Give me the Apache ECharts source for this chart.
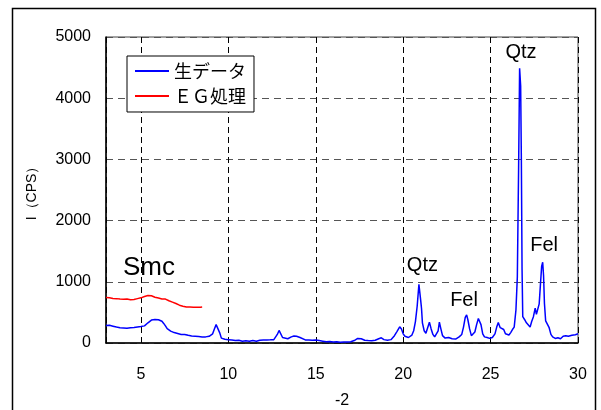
<!DOCTYPE html>
<html>
<head>
<meta charset="utf-8">
<title>XRD</title>
<script src="https://cdn.jsdelivr.net/npm/echarts@6/dist/echarts.min.js"></script>
<style>
  html, body { margin: 0; padding: 0; background: #fff; }
  #main { width: 601px; height: 410px; }
</style>
</head>
<body>
<div id="main"></div>
<script>
// 2θ (deg) / intensity (CPS)
var rawData = [
  [3.0, 285], [3.1, 270], [3.2, 290], [3.3, 265], [3.4, 275], [3.5, 255], [3.6, 260], [3.7, 245],
  [3.8, 250], [3.9, 235], [4.0, 245], [4.1, 230], [4.2, 240], [4.3, 235], [4.4, 250], [4.5, 240],
  [4.6, 255], [4.7, 250], [4.8, 262], [4.9, 258], [5.0, 268], [5.1, 270], [5.2, 280], [5.3, 300],
  [5.4, 330], [5.5, 355], [5.6, 375], [5.7, 390], [5.8, 385], [5.9, 392], [6.0, 380], [6.1, 370],
  [6.2, 355], [6.3, 320], [6.4, 280], [6.5, 235], [6.6, 205], [6.7, 195], [6.8, 180], [6.9, 170],
  [7.0, 160], [7.1, 155], [7.2, 150], [7.3, 140], [7.4, 135], [7.5, 140], [7.6, 120], [7.7, 125],
  [7.8, 110], [7.9, 115], [8.0, 105], [8.1, 110], [8.2, 100], [8.3, 105], [8.4, 98], [8.5, 100],
  [8.6, 102], [8.7, 100], [8.8, 105], [8.9, 110], [9.0, 125], [9.1, 150], [9.2, 230], [9.3, 300],
  [9.35, 315], [9.4, 290], [9.5, 170], [9.6, 80], [9.7, 65], [9.8, 60], [10.0, 55], [10.2, 50],
  [10.4, 40], [10.6, 45], [10.8, 30], [11.0, 35], [11.2, 28], [11.4, 40], [11.6, 30], [11.8, 45],
  [12.0, 48], [12.2, 50], [12.4, 52], [12.6, 55], [12.7, 80], [12.8, 140], [12.9, 205], [12.95, 215],
  [13.0, 190], [13.1, 90], [13.2, 70], [13.4, 70], [13.6, 100], [13.75, 115], [13.9, 110], [14.0, 80],
  [14.1, 90], [14.2, 60], [14.4, 50], [14.6, 48], [14.8, 45], [15.0, 50], [15.2, 40], [15.4, 30],
  [15.6, 20], [15.8, 25], [16.0, 15], [16.2, 20], [16.4, 12], [16.6, 18], [16.8, 15], [17.0, 20],
  [17.2, 40], [17.4, 75], [17.5, 85], [17.6, 70], [17.8, 45], [18.0, 40], [18.2, 38], [18.4, 45],
  [18.6, 70], [18.75, 85], [18.9, 55], [19.1, 45], [19.3, 55], [19.5, 120], [19.65, 190], [19.8, 265],
  [19.9, 230], [20.0, 150], [20.1, 110], [20.3, 90], [20.5, 130], [20.6, 200], [20.7, 350], [20.8, 600],
  [20.9, 960], [20.95, 940], [21.0, 700], [21.05, 560], [21.1, 330], [21.2, 200], [21.3, 160], [21.4, 250],
  [21.5, 340], [21.6, 230], [21.7, 140], [21.8, 100], [21.9, 90], [22.0, 200], [22.07, 340], [22.15, 240],
  [22.25, 120], [22.4, 80], [22.6, 90], [22.7, 100], [22.8, 70], [23.0, 65], [23.1, 75], [23.2, 100],
  [23.35, 140], [23.45, 260], [23.55, 420], [23.63, 460], [23.7, 380], [23.8, 230], [23.9, 120], [24.0, 110],
  [24.1, 180], [24.2, 300], [24.3, 400], [24.35, 410], [24.45, 300], [24.55, 150], [24.65, 100], [24.8, 90],
  [24.95, 75], [25.1, 90], [25.25, 150], [25.35, 260], [25.44, 335], [25.55, 250], [25.65, 240], [25.75, 220],
  [25.85, 150], [25.95, 120], [26.05, 130], [26.15, 170], [26.25, 220], [26.35, 260], [26.45, 540], [26.53, 1080],
  [26.6, 2800], [26.66, 4490], [26.72, 4200], [26.76, 3000], [26.8, 1200], [26.84, 430], [26.95, 380], [27.05, 330],
  [27.15, 300], [27.26, 260], [27.35, 350], [27.45, 430], [27.55, 570], [27.62, 470], [27.7, 460], [27.78, 640],
  [27.85, 950], [27.92, 1250], [27.98, 1320], [28.03, 1100], [28.08, 650], [28.15, 360], [28.25, 330], [28.35, 250],
  [28.45, 140], [28.55, 100], [28.7, 75], [28.85, 85], [29.0, 70], [29.15, 110], [29.3, 120], [29.45, 110],
  [29.55, 140], [29.65, 125], [29.75, 155], [29.85, 135], [30.0, 150]
];

var egData = [
  [3.0, 745], [3.1, 735], [3.2, 740], [3.3, 730], [3.4, 728], [3.5, 722], [3.6, 725], [3.7, 720],
  [3.8, 718], [3.9, 722], [4.0, 715], [4.1, 712], [4.2, 718], [4.3, 710], [4.4, 705], [4.5, 700],
  [4.6, 712], [4.7, 715], [4.8, 725], [4.9, 730], [5.0, 738], [5.1, 745], [5.2, 760], [5.3, 770],
  [5.4, 775], [5.5, 780], [5.6, 772], [5.7, 760], [5.8, 748], [5.9, 740], [6.0, 735], [6.1, 730],
  [6.2, 720], [6.3, 712], [6.4, 718], [6.5, 700], [6.6, 690], [6.7, 680], [6.8, 668], [6.9, 655],
  [7.0, 645], [7.1, 630], [7.2, 618], [7.3, 610], [7.4, 602], [7.5, 596], [7.6, 590], [7.7, 595],
  [7.8, 588], [7.9, 592], [8.0, 585], [8.1, 590], [8.2, 584], [8.3, 595], [8.4, 585], [8.5, 588]
];

var seriesNames = ["生データ", "ＥＧ処理"];

// peak labels: [2θ, CPS, text]
var peakLabels = [
  [26.74, 4740, "Qtz"],
  [21.1, 1260, "Qtz"],
  [23.48, 700, "Fel"],
  [28.06, 1600, "Fel"]
];
var smcLabel = [5.46, 1230, "Smc"];

var font = "'Liberation Sans', Arial, sans-serif";

var chart = echarts.init(document.getElementById("main"));

function markItem(p, size) {
  return {
    coord: [p[0], p[1]],
    value: p[2],
    symbol: "circle",
    symbolSize: 1,
    itemStyle: { color: "rgba(0,0,0,0)" },
    label: {
      show: true,
      position: "inside",
      formatter: p[2],
      color: "#000",
      fontFamily: font,
      fontSize: size
    }
  };
}

chart.setOption({
  animation: false,
  backgroundColor: "#fff",
  graphic: [
    {
      type: "rect",
      shape: { x: 12.5, y: 8.5, width: 583, height: 420 },
      style: { fill: "none", stroke: "#000", lineWidth: 1.5 },
      silent: true
    }
  ],
  grid: {
    left: 106,
    right: 23,
    top: 37,
    bottom: 67,
    outerBoundsMode: "none",
    show: true,
    borderColor: "#444",
    borderWidth: 1
  },
  legend: {
    orient: "vertical",
    left: 127,
    top: 56,
    padding: [6, 8, 7, 8],
    itemGap: 7,
    itemWidth: 34,
    itemHeight: 2,
    icon: "rect",
    backgroundColor: "#fff",
    borderColor: "#000",
    borderWidth: 1,
    data: seriesNames,
    textStyle: {
      fontFamily: "'Noto Sans CJK JP', sans-serif",
      fontSize: 18,
      color: "#000"
    }
  },
  xAxis: {
    type: "value",
    min: 3,
    max: 30,
    name: "-2",
    nameLocation: "middle",
    nameGap: 50,
    nameTextStyle: { fontFamily: font, fontSize: 16, color: "#000" },
    axisLine: { lineStyle: { color: "#000", width: 1.5 } },
    axisTick: { show: false },
    axisLabel: {
      showMinLabel: false,
      margin: 24,
      fontFamily: font,
      fontSize: 16,
      color: "#000"
    },
    splitLine: {
      show: true,
      lineStyle: { color: "#000", type: [6, 4], width: 1 }
    }
  },
  yAxis: {
    type: "value",
    min: 0,
    max: 5000,
    interval: 1000,
    name: "I（CPS）",
    nameLocation: "middle",
    nameGap: 67,
    nameTextStyle: { fontFamily: font, fontSize: 14, color: "#000" },
    axisLine: { show: true, lineStyle: { color: "#000", width: 1.5 } },
    axisTick: { show: false },
    axisLabel: {
      margin: 15,
      fontFamily: font,
      fontSize: 16,
      color: "#000",
      formatter: function (v) { return String(v); }
    },
    splitLine: {
      show: true,
      lineStyle: { color: "#555", type: [7, 5], width: 1 }
    }
  },
  series: [
    {
      name: seriesNames[0],
      type: "line",
      data: rawData,
      symbol: "none",
      lineStyle: { color: "#0000ff", width: 1.5 },
      itemStyle: { color: "#0000ff" },
      markPoint: {
        silent: true,
        data: peakLabels.map(function (p) { return markItem(p, 20); })
          .concat([markItem(smcLabel, 26)])
      }
    },
    {
      name: seriesNames[1],
      type: "line",
      data: egData,
      symbol: "none",
      lineStyle: { color: "#ff0000", width: 1.5 },
      itemStyle: { color: "#ff0000" }
    }
  ]
});
</script>
</body>
</html>
